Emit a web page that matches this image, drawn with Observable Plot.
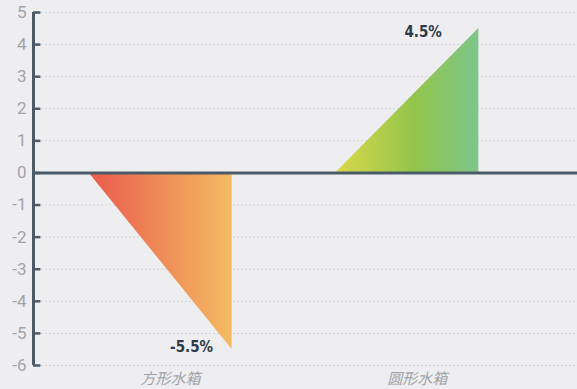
<!DOCTYPE html>
<html><head><meta charset="utf-8">
<script src="https://cdn.jsdelivr.net/npm/d3@7"></script>
<script src="https://cdn.jsdelivr.net/npm/@observablehq/plot@0.6"></script>
<style>
html,body{margin:0;padding:0;background:#eeeef0;}
</style>
</head><body>
<div id="chart"></div>
<script>
const categories = ["方形水箱", "圆形水箱"];
const values = [-5.5, 4.5];
const valueLabels = ["-5.5%", "4.5%"];
const yTicks = [-6, -5, -4, -3, -2, -1, 0, 1, 2, 3, 4, 5];

const half = 0.29;
const xLeft = -0.515;
const tri = categories.map((c, i) => [
  {x: i - half, y1: 0, y2: 0},
  {x: i + half, y1: 0, y2: values[i]}
]);
const gradIds = ["gNeg", "gPos"];

const defs = () => {
  const d = d3.create("svg:defs");
  const g0 = d.append("linearGradient").attr("id", "gNeg").attr("x1", 0).attr("x2", 1).attr("y1", 0).attr("y2", 0);
  g0.append("stop").attr("offset", "0%").attr("stop-color", "#ea5a4c");
  g0.append("stop").attr("offset", "100%").attr("stop-color", "#f4bb62");
  const g1 = d.append("linearGradient").attr("id", "gPos").attr("x1", 0).attr("x2", 1).attr("y1", 0).attr("y2", 0);
  g1.append("stop").attr("offset", "0%").attr("stop-color", "#dcd84a");
  g1.append("stop").attr("offset", "55%").attr("stop-color", "#92c54a");
  g1.append("stop").attr("offset", "100%").attr("stop-color", "#7dc68a");
  return d.node();
};

const axisColor = "#4b5a68";
const valueFont = "'Liberation Sans Narrow', 'DejaVu Sans Condensed', 'Roboto Condensed', sans-serif";
const chart = Plot.plot({
  width: 577,
  height: 389,
  marginLeft: 33,
  marginRight: 0,
  marginTop: 12,
  marginBottom: 24,
  style: {background: "#eeeef0", overflow: "visible"},
  x: {domain: [xLeft, 1.69], axis: null},
  y: {domain: [-6, 5], axis: null},
  marks: [
    defs,
    Plot.ruleY(yTicks, {stroke: "#cfd2d6", strokeWidth: 1, strokeDasharray: "2,2"}),
    ...tri.map((t, i) => Plot.areaY(t, {x: "x", y1: "y1", y2: "y2", fill: `url(#${gradIds[i]})`})),
    Plot.ruleY([0], {stroke: axisColor, strokeWidth: 3}),
    Plot.ruleX([xLeft], {y1: -6, y2: 5, stroke: axisColor, strokeWidth: 3}),
    Plot.ruleY(yTicks, {x1: xLeft, x2: xLeft + 0.03, stroke: axisColor, strokeWidth: 2.5}),
    Plot.text(yTicks, {x: xLeft, y: d => d, dx: -7, textAnchor: "end", fill: "#a0a4a9", fontSize: 17, fontFamily: "Roboto, sans-serif"}),
    Plot.text(categories, {x: (d, i) => i, y: -6, dy: 14, dx: 10, fill: "#9ea2a7", fontSize: 15, fontStyle: "italic", fontFamily: "'Noto Sans CJK SC', sans-serif"}),
    Plot.text([0], {x: i => i + half, y: i => values[i], text: i => valueLabels[i], textAnchor: "end", dx: -19, dy: -2, fill: "#2e3a46", fontSize: 15, fontWeight: "bold", letterSpacing: "-0.8px", fontFamily: valueFont}),
    Plot.text([1], {x: i => i + half, y: i => values[i], text: i => valueLabels[i], textAnchor: "end", dx: -37, dy: 4, fill: "#2e3a46", fontSize: 15, fontWeight: "bold", letterSpacing: "-0.8px", fontFamily: valueFont})
  ]
});
document.getElementById("chart").appendChild(chart);
</script>
</body></html>
